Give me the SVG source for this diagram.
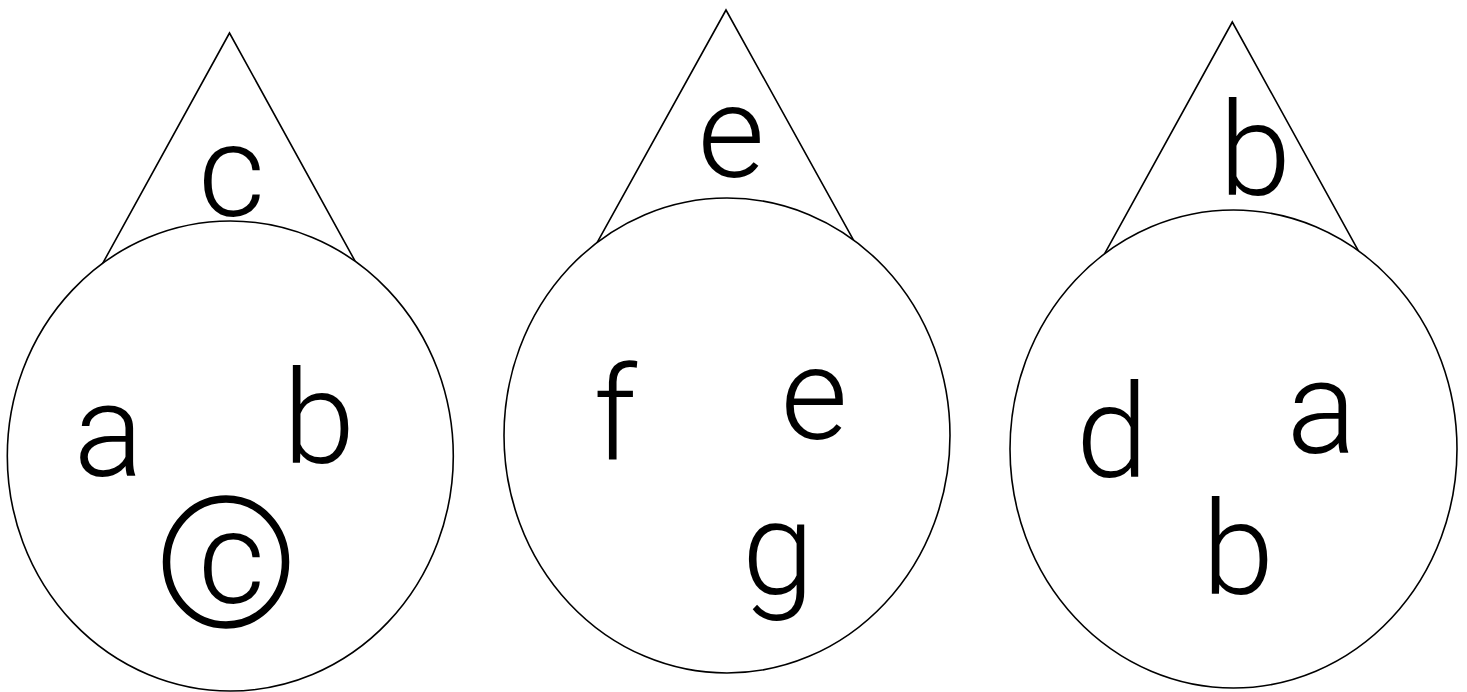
<svg xmlns="http://www.w3.org/2000/svg" width="1467" height="692" viewBox="0 0 1467 692">
<style>
.shape{fill:#fff;stroke:#000;stroke-width:1.6;}
.ring{fill:none;stroke:#000;stroke-width:7.5;}
.lbl{font-family:Roboto,"Open Sans","DejaVu Sans",sans-serif;font-weight:300;font-size:130px;fill:#000;text-anchor:middle;}
</style>
<rect width="1467" height="692" fill="#fff"/>
<g id="connectors"></g>
<g id="tree1">
<polygon class="shape" points="229.5,33 71.5,320 387.5,320"/>
<ellipse class="shape" cx="230.3" cy="456" rx="223" ry="235"/>
<text class="lbl" x="231.5" y="216">c</text>
<text class="lbl" x="108.5" y="476">a</text>
<text class="lbl" x="319" y="463">b</text>
<ellipse class="ring" cx="226" cy="562" rx="59.5" ry="63"/>
<text class="lbl" x="231.5" y="603">c</text>
</g>
<g id="tree2">
<polygon class="shape" points="726,10 565.3,300 886.7,300"/>
<ellipse class="shape" cx="727" cy="435.5" rx="223" ry="237.5"/>
<text class="lbl" x="731" y="177">e</text>
<text class="lbl" x="615" y="460">f</text>
<text class="lbl" x="814" y="439">e</text>
<text class="lbl" x="778" y="594">g</text>
</g>
<g id="tree3">
<polygon class="shape" points="1232.3,22 1073.6,310 1391,310"/>
<ellipse class="shape" cx="1233.5" cy="449" rx="223.5" ry="239"/>
<text class="lbl" x="1255" y="195">b</text>
<text class="lbl" x="1112" y="477">d</text>
<text class="lbl" x="1321.5" y="453">a</text>
<text class="lbl" x="1238" y="594">b</text>
</g>
</svg>
